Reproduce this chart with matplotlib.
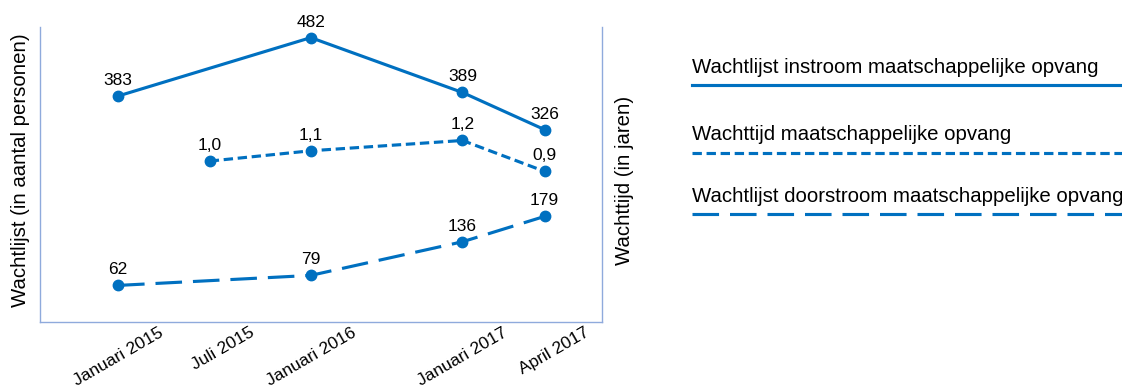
import matplotlib.pyplot as plt
from matplotlib.lines import Line2D
from matplotlib.transforms import ScaledTranslation

plt.rcParams['font.family'] = ['Liberation Sans', 'DejaVu Sans']

# meetmomenten (maanden sinds januari 2015, zoals op de datum-as)
maanden = [0, 5.8, 12.2, 21.8, 27]
labels = ['Januari 2015', 'Juli 2015', 'Januari 2016', 'Januari 2017', 'April 2017']

# wachtlijsten (aantal personen) op jan 2015, jan 2016, jan 2017, apr 2017
idx_lijst = [0, 2, 3, 4]
instroom = [383, 482, 389, 326]
doorstroom = [62, 79, 136, 179]

# wachttijd (jaren) op jul 2015, jan 2016, jan 2017, apr 2017
idx_tijd = [1, 2, 3, 4]
wachttijd = [1.0, 1.1, 1.2, 0.9]

namen = ['Wachtlijst instroom maatschappelijke opvang',
         'Wachttijd maatschappelijke opvang',
         'Wachtlijst doorstroom maatschappelijke opvang']

blauw = '#0070C0'
rand = '#8FAADC'
stijl_tijd = (0, (3, 1.5))
stijl_door = (0, (8.5, 3.5))
lw = 2.25

W, H = 1122, 390
fig = plt.figure(figsize=(W / 100, H / 100), dpi=100)
ax = fig.add_axes([40 / W, 68 / H, 562 / W, 295 / H])
ax2 = ax.twinx()

x_lijst = [maanden[i] for i in idx_lijst]
x_tijd = [maanden[i] for i in idx_tijd]

ax.plot(x_lijst, instroom, color=blauw, lw=lw, marker='o', ms=7.5,
        solid_capstyle='butt')
ax.plot(x_lijst, doorstroom, color=blauw, lw=lw, marker='o', ms=7.5,
        ls=stijl_door, dash_capstyle='butt')
ax2.plot(x_tijd, wachttijd, color=blauw, lw=lw, marker='o', ms=7.5,
         ls=stijl_tijd, dash_capstyle='butt')

def waarde(a, xs, ys, fmt):
    for x, y in zip(xs, ys):
        a.annotate(fmt(y), (x, y), xytext=(0, 11), textcoords='offset pixels',
                   ha='center', va='baseline', fontsize=12.5, color='black')

waarde(ax, x_lijst, instroom, lambda v: f'{v:d}')
waarde(ax, x_lijst, doorstroom, lambda v: f'{v:d}')
waarde(ax2, x_tijd, wachttijd, lambda v: f'{v:.1f}'.replace('.', ','))

ax.set_xlim(-4.94, 30.63)
ax.set_ylim(0, 500)
ax2.set_ylim(-0.56, 2.30)

for a in (ax, ax2):
    for s in a.spines.values():
        s.set_visible(False)
    a.set_yticks([])
    a.set_xticks([])
ax.spines['left'].set_visible(True)
ax.spines['bottom'].set_visible(True)
ax2.spines['right'].set_visible(True)
for s in (ax.spines['left'], ax.spines['bottom'], ax2.spines['right']):
    s.set_color(rand)
    s.set_linewidth(1.0)

# schuine datumlabels, rechterbovenhoek iets rechts van het meetpunt
verschuif = ScaledTranslation(40 / 100, -3 / 100, fig.dpi_scale_trans)
for m, lab in zip(maanden, labels):
    ax.text(m, 0, lab, rotation=30, ha='right', va='top',
            rotation_mode='anchor', fontsize=12.5,
            transform=ax.get_xaxis_transform() + verschuif)

fig.text(21 / W, 1 - 170 / H, 'Wachtlijst (in aantal personen)', rotation=90,
         ha='center', va='center', fontsize=14.7)
fig.text(625 / W, 1 - 180 / H, 'Wachttijd (in jaren)', rotation=90,
         ha='center', va='center', fontsize=14.7)

# legenda: naam boven een lijnstuk
stijlen = ['-', stijl_tijd, stijl_door]
tekst_y = [73, 140, 202]
lijn_y = [85, 153, 214]
for naam, ls, ty, ly in zip(namen, stijlen, tekst_y, lijn_y):
    fig.text(692 / W, 1 - ty / H, naam, ha='left', va='baseline', fontsize=14.7)
    fig.add_artist(Line2D([692 / W, 1.02], [1 - ly / H] * 2, color=blauw,
                          lw=lw, ls=ls, dash_capstyle='butt',
                          transform=fig.transFigure))

fig.savefig('out.png', dpi=100)
